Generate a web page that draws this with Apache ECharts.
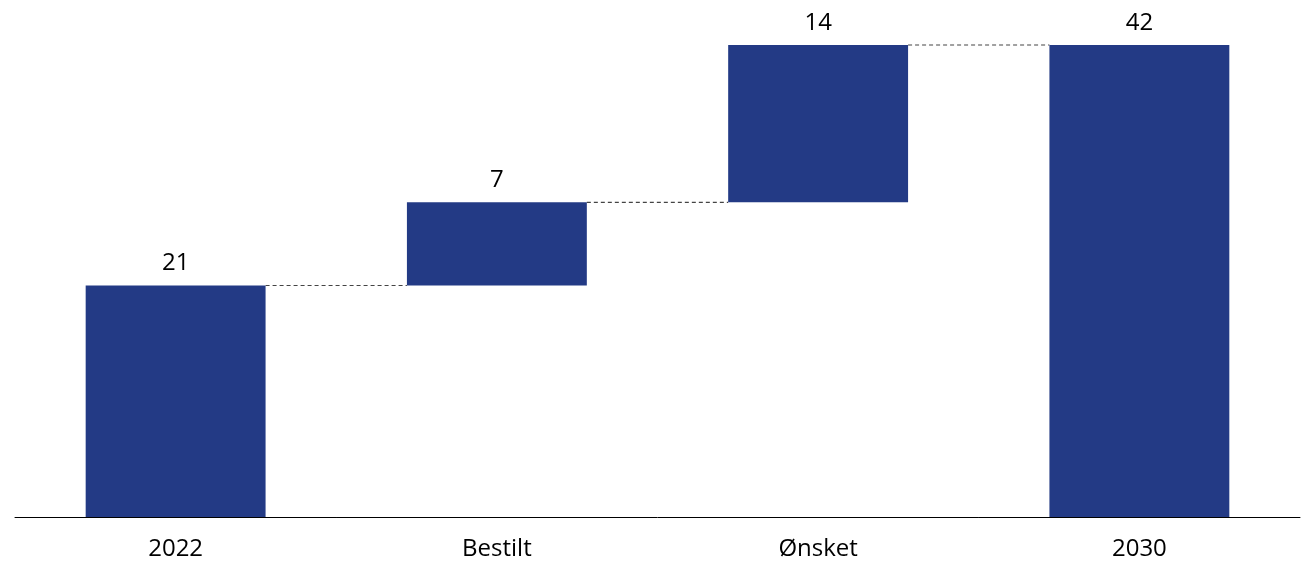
<!DOCTYPE html>
<html>
<head>
<meta charset="utf-8">
<script src="https://cdn.jsdelivr.net/npm/echarts@6/dist/echarts.min.js"></script>
<style>
  html, body { margin: 0; padding: 0; background: #fff; }
  #chart { width: 1301px; height: 562px; }
</style>
</head>
<body>
<div id="chart"></div>
<script>
const categories = ["2022", "Bestilt", "Ønsket", "2030"];
const baseValues = [0, 20.6, 28, 0];
const barValues = [20.6, 7.4, 14, 42];

// connector lines: [from category index, to category index, level]
const connectors = [
  [0, 1, 20.6],
  [1, 2, 28],
  [2, 3, 42],
];

const myChart = echarts.init(document.getElementById("chart"));

const option = {
  animation: false,
  textStyle: { fontFamily: "Open Sans, Liberation Sans, sans-serif" },
  grid: { left: 15, right: 1, top: 45, bottom: 45 },
  xAxis: {
    type: "category",
    data: categories,
    axisLine: { show: true, lineStyle: { color: "#000", width: 1 } },
    axisTick: { show: false },
    axisLabel: { color: "#000", fontSize: 24, margin: 20 },
  },
  yAxis: {
    type: "value",
    min: 0,
    max: 42,
    show: false,
    splitLine: { show: false },
  },
  series: [
    {
      name: "base",
      type: "bar",
      stack: "w",
      barWidth: "56%",
      itemStyle: { color: "transparent" },
      data: baseValues,
      silent: true,
    },
    {
      name: "value",
      type: "bar",
      stack: "w",
      barWidth: "56%",
      itemStyle: { color: "#233a85" },
      label: {
        show: true,
        position: "top",
        distance: 10,
        color: "#000",
        fontSize: 24,
        formatter: (p) => Math.round(p.value),
      },
      data: barValues,
    },
    {
      name: "connectors",
      type: "custom",
      z: 1,
      data: connectors,
      renderItem: function (params, api) {
        const from = api.value(0);
        const to = api.value(1);
        const lvl = api.value(2);
        const half = api.size([1, 0])[0] * 0.28;
        const p1 = api.coord([from, lvl]);
        const p2 = api.coord([to, lvl]);
        return {
          type: "line",
          shape: { x1: p1[0] + half, y1: p1[1], x2: p2[0] - half, y2: p2[1] },
          style: { stroke: "#444", lineWidth: 1.2, lineDash: [4, 3] },
        };
      },
    },
  ],
};

myChart.setOption(option);
</script>
</body>
</html>
